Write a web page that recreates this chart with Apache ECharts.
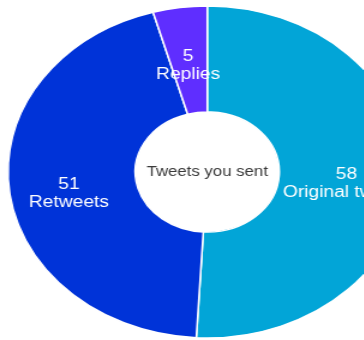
<!DOCTYPE html>
<html>
<head>
<meta charset="utf-8">
<script src="https://cdn.jsdelivr.net/npm/echarts@6/dist/echarts.min.js"></script>
<style>
  html, body { margin: 0; padding: 0; background: #ffffff; overflow: hidden; width: 364px; height: 340px; }
  /* the donut is drawn slightly squeezed and widened back to an oval */
  #chart { width: 303.33px; height: 340px; transform: scaleX(1.2); transform-origin: 0 0; }
</style>
</head>
<body>
<div id="chart"></div>
<script>
// Tweet breakdown
const categories = ['Original tweets', 'Retweets', 'Replies'];
const counts = [58, 51, 5];
const sliceColors = ['#02a5d7', '#0033d8', '#5f2eff'];
const centerText = 'Tweets you sent';

const chart = echarts.init(document.getElementById('chart'), null, { renderer: 'canvas' });

const pieCenter = ['57%', 172];
const labelFont = 'Liberation Sans, Arial, sans-serif';

chart.setOption({
  animation: false,
  backgroundColor: '#ffffff',
  series: [
    {
      type: 'pie',
      center: pieCenter,
      radius: [60, 166],
      startAngle: 90,
      clockwise: true,
      silent: true,
      itemStyle: { borderColor: '#ffffff', borderWidth: 1.5 },
      label: {
        show: true,
        position: 'inside',
        color: '#ffffff',
        fontFamily: labelFont,
        fontSize: 16,
        lineHeight: 18,
        // an empty spacer line pushes the two text lines a little below the slice centre
        formatter: p => '{gap| }\n{t|' + p.value + '}\n{t|' + p.name + '}',
        rich: {
          gap: { fontSize: 1, lineHeight: 17 },
          t: { color: '#ffffff', fontFamily: labelFont, fontSize: 16, lineHeight: 18 }
        }
      },
      labelLine: { show: false },
      data: categories.map((name, i) => ({
        name,
        value: counts[i],
        itemStyle: { color: sliceColors[i] }
      }))
    },
    {
      type: 'pie',
      center: pieCenter,
      radius: [0, 1],
      silent: true,
      itemStyle: { color: 'transparent' },
      label: {
        show: true,
        position: 'center',
        color: '#3a3a3a',
        fontFamily: labelFont,
        fontSize: 14,
        formatter: () => centerText
      },
      labelLine: { show: false },
      data: [{ name: centerText, value: 1 }]
    }
  ]
});
</script>
</body>
</html>
